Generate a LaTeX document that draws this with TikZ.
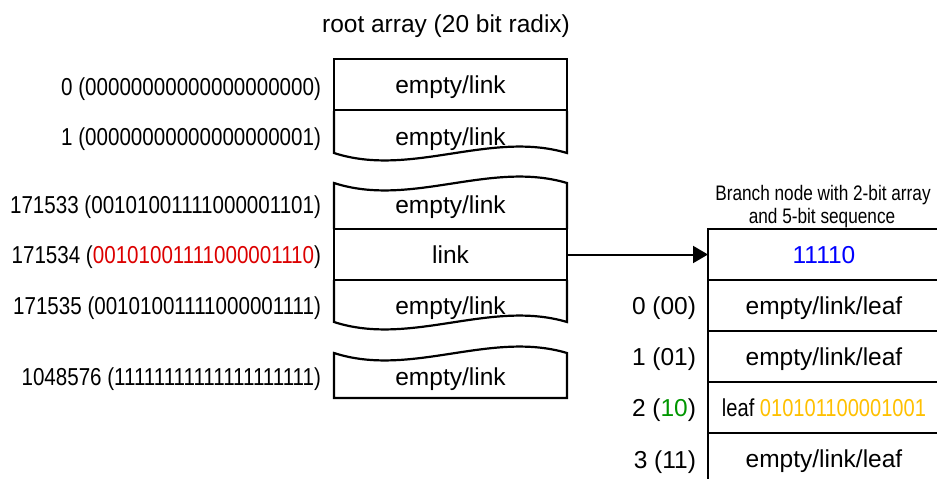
\documentclass[tikz,border=0pt]{standalone}
\usepackage{fontspec}
\setmainfont{Liberation Sans}
\newfontfamily\narrowfont[FakeStretch=0.82]{Liberation Sans}
\newfontfamily\labelfont[FakeStretch=0.84]{Liberation Sans}
\usetikzlibrary{arrows.meta}
\definecolor{bitred}{RGB}{220,0,0}
\definecolor{bitblue}{RGB}{0,0,255}
\definecolor{bitgreen}{RGB}{0,150,0}
\definecolor{bitgold}{RGB}{255,192,0}
\begin{document}
\begin{tikzpicture}[x=1pt,y=-1pt,
  every node/.style={inner sep=0pt, outer sep=0pt, font=\fontsize{24.5}{29}\selectfont},
  cell/.style={draw, line width=2.2pt, minimum height=51pt, text height=18pt, text depth=0pt, anchor=north west},
  lcell/.style={cell, minimum width=233pt},
  rcell/.style={cell, minimum width=232pt},
  tape/.style={draw, line width=2.2pt, line join=miter},
  celltext/.style={anchor=base},
  lab/.style={anchor=base east, font={\labelfont\fontsize{24.5}{29}\selectfont}},
  rlab/.style={anchor=base east},
  capt/.style={anchor=base, font={\narrowfont\fontsize{21}{25}\selectfont}},
  link/.style={line width=2pt, -{Triangle[length=15pt,width=17pt]}}
]
\useasboundingbox (0,0) rectangle (937,479);
\clip (0,0) rectangle (937,479);

% title
\node[celltext] (title) at (446,32) {root array (20 bit radix)};

% root array
\node[lcell] (r0) at (334,59) {empty/link};
\draw[tape] (334,111) -- (334,153) .. controls (411,178) and (490,130) .. (567,153) -- (567,111);
\node[celltext] (r1) at (450.5,145) {empty/link};

\draw[tape] (334,229) -- (334,183) .. controls (411,208) and (490,160) .. (567,183) -- (567,229);
\node[celltext] (r2) at (450.5,213) {empty/link};
\node[lcell] (r3) at (334,229) {link};
\draw[tape] (334,280) -- (334,322) .. controls (411,347) and (490,299) .. (567,322) -- (567,280);
\node[celltext] (r4) at (450.5,314) {empty/link};

\draw[tape] (334,398) -- (334,353) .. controls (411,378) and (490,330) .. (567,353) -- (567,398) -- cycle;
\node[celltext] (r5) at (450.5,385) {empty/link};

% left labels
\node[lab] (l0) at (321,95) {0 (00000000000000000000)};
\node[lab] (l1) at (321,145) {1 (00000000000000000001)};
\node[lab] (l2) at (321,213) {171533 (00101001111000001101)};
\node[lab] (l3) at (321,263) {171534 ({\color{bitred}00101001111000001110})};
\node[lab] (l4) at (321,314) {171535 (00101001111000001111)};
\node[lab] (l5) at (321,385) {1048576 (11111111111111111111)};

% branch node
\node[capt] (cap1) at (823,200) {Branch node with 2-bit array};
\node[capt] (cap2) at (822,223) {and 5-bit sequence};
\node[rcell] (b0) at (708,229) {\color{bitblue}11110};
\node[rcell] (b1) at (708,280) {empty/link/leaf};
\node[rcell] (b2) at (708,331) {empty/link/leaf};
\node[rcell] (b3) at (708,382) {{\narrowfont leaf {\color{bitgold}010101100001001}}};
\node[rcell] (b4) at (708,433) {empty/link/leaf};

% right labels
\node[rlab] (k0) at (696,314) {0 (00)};
\node[rlab] (k1) at (696,365) {1 (01)};
\node[rlab] (k2) at (696,416) {2 ({\color{bitgreen}10})};
\node[rlab] (k3) at (696,468) {3 (11)};

% connector
\draw[link] (r3.east) -- (b0.west);
\end{tikzpicture}
\end{document}
